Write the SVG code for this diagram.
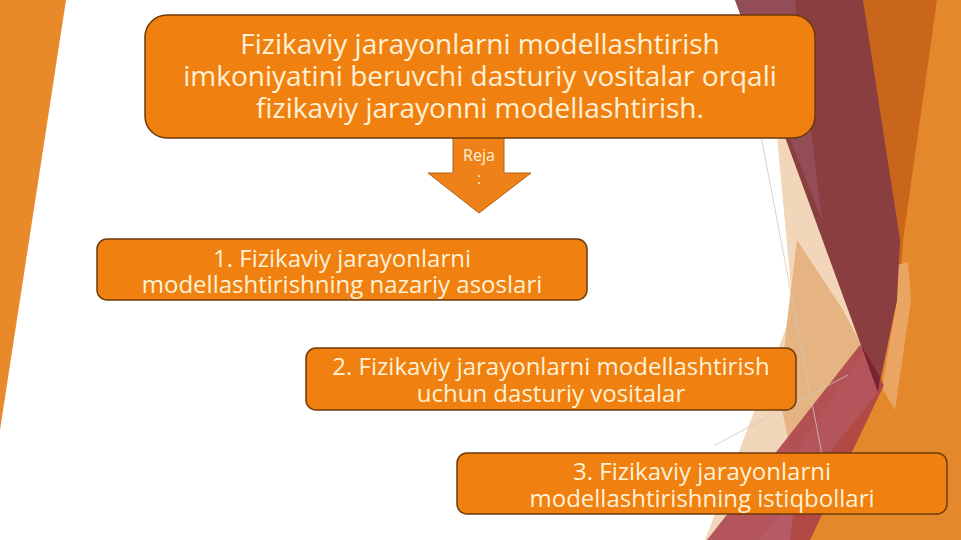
<svg xmlns="http://www.w3.org/2000/svg" width="961" height="540" viewBox="0 0 961 540">
  <style>
    .box { fill: #F08010; stroke: #6E3A08; stroke-width: 1.5; }
    .t { font-family: "Open Sans", "Noto Sans", sans-serif; fill: #FFF1D6; text-anchor: middle; }
    .title { font-size: 28px; }
    .item { font-size: 24px; }
    .small { font-size: 16px; }
    .thin { stroke: #CFC6BE; stroke-width: 0.8; fill: none; }
  </style>
  <rect x="0" y="0" width="961" height="540" fill="#FFFFFF"/>
  <g id="decor-left">
    <polygon points="0,0 66,0 0,430" fill="#E8892A"/>
  </g>
  <g id="decor-right">
    <polygon points="860,0 961,0 961,540 790,540" fill="#E4892B"/>
    <polygon points="862,0 937,0 903,240 897,330" fill="#C9661C"/>
    <polygon points="776,125 785,125 878,392 760,540 705,540 793,310" fill="#F2D6BA"/>
    <polygon points="797,240 843,310 864,350 792,458 780,400 786,330" fill="#E6B482"/>
    <polygon points="897,265 908,262 911,300 895,410 882,388 897,300" fill="#EBA562"/>
    <polygon points="735,0 863,0 883,130 900,240 897,300 878,392" fill="#8A3E3F"/>
    <polygon points="735,0 795,0 822,220" fill="#93505A" opacity="0.85"/>
    <polygon points="707,540 810,540 884,385 860,345" fill="#A83E4A" opacity="0.85"/>
    <polygon points="861,345 880,377 878,392" fill="#7A2431"/>
    <line class="thin" x1="758" y1="120" x2="822" y2="455"/>
    <line class="thin" x1="715" y1="445" x2="848" y2="375"/>
  </g>
  <g id="connectors">
    <polygon id="arrow" points="453,137 504,137 504,173 531,173 479,213 428,173 453,173" fill="#EE8118" stroke="#B3600F" stroke-width="1"/>
    <text class="t small" x="479" y="161">Reja</text>
    <text class="t small" x="479" y="184">:</text>
  </g>
  <g id="node-title">
    <rect class="box" x="145" y="15" width="670" height="123" rx="22" ry="22"/>
    <text class="t title" x="480" y="54">Fizikaviy jarayonlarni modellashtirish</text>
    <text class="t title" x="480" y="86">imkoniyatini beruvchi dasturiy vositalar orqali</text>
    <text class="t title" x="480" y="118">fizikaviy jarayonni modellashtirish.</text>
  </g>
  <g id="node-1">
    <rect class="box" x="97" y="239" width="490" height="61" rx="10" ry="10"/>
    <text class="t item" x="342" y="267">1. Fizikaviy jarayonlarni</text>
    <text class="t item" x="342" y="293">modellashtirishning nazariy asoslari</text>
  </g>
  <g id="node-2">
    <rect class="box" x="306" y="348" width="490" height="62" rx="10" ry="10"/>
    <text class="t item" x="551" y="375">2. Fizikaviy jarayonlarni modellashtirish</text>
    <text class="t item" x="551" y="402">uchun dasturiy vositalar</text>
  </g>
  <g id="node-3">
    <rect class="box" x="457" y="453" width="490" height="61" rx="10" ry="10"/>
    <text class="t item" x="702" y="480">3. Fizikaviy jarayonlarni</text>
    <text class="t item" x="702" y="507">modellashtirishning istiqbollari</text>
  </g>
</svg>
